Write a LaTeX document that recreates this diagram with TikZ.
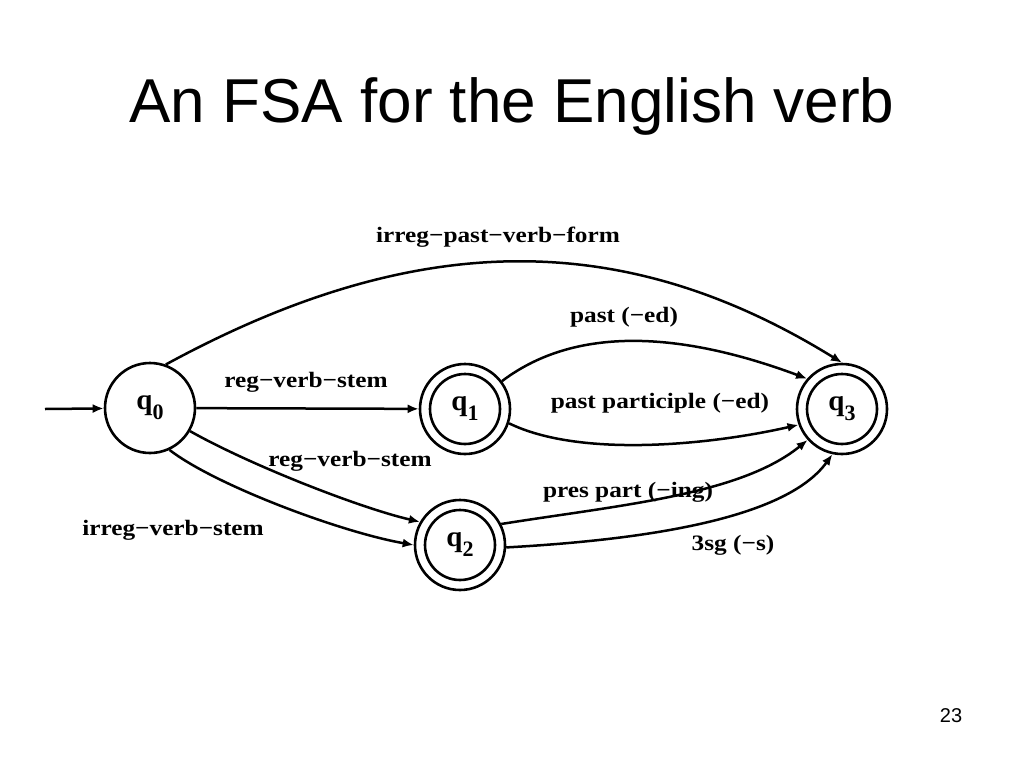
\documentclass[tikz,border=0pt]{standalone}
\usepackage{fontspec}
\usepackage{graphicx}
\setmainfont{Liberation Serif}
\newfontfamily\titlefont{Liberation Sans}
\usetikzlibrary{arrows.meta}
\newcommand\edgelab[1]{\scalebox{1.15}[1]{\fontsize{22}{24}\selectfont\bfseries #1}}
\newcommand\qlab[1]{{\fontsize{29}{29}\selectfont\bfseries q\raisebox{-10pt}{\fontsize{22}{22}\selectfont #1}}}
\begin{document}
\begin{tikzpicture}[x=1pt,y=-1pt,
  state/.style={circle,draw,line width=2.6pt,minimum size=90pt,inner sep=0pt},
  edge/.style={line width=2.5pt,-{Latex[length=11pt,width=9pt]}},
  lab/.style={inner sep=0pt}]
\useasboundingbox[fill=white] (0,0) rectangle (1024,768);
\node[font=\titlefont\fontsize{62}{62}\selectfont, anchor=base] (title) at (512,122) {An FSA for the English verb};
\node[font=\titlefont\fontsize{20}{20}\selectfont, anchor=base] (page) at (951,722) {23};
\node[state] (q0) at (150,408) {\qlab{0}};
\node[state] (q1) at (465,409) {\qlab{1}};
\node[state] (q2) at (460,545) {\qlab{2}};
\node[state] (q3) at (842,409) {\qlab{3}};
\draw[line width=2.6pt] (q1.center) circle[radius=35pt];
\draw[line width=2.6pt] (q2.center) circle[radius=35pt];
\draw[line width=2.6pt] (q3.center) circle[radius=35pt];
\coordinate (start) at (45,409);
\draw[edge] (start) -- (q0);
\draw[edge] (q0.70) .. controls (422,225) and (629,231) .. (q3.90);
\draw[edge] (q0) -- (q1);
\draw[edge] (q1.37) .. controls (580,322) and (690,335) .. (q3.139);
\draw[edge] (q1.-18) .. controls (580,458) and (710,445) .. (q3.200);
\draw[edge] (q0.-30) .. controls (250,465) and (360,508) .. (q2.150);
\draw[edge] (q0.-65) .. controls (215,485) and (340,532) .. (q2.180);
\draw[edge] (q2.27) .. controls (620,505) and (740,495) .. (q3.222);
\draw[edge] (q2.-3) .. controls (640,540) and (785,520) .. (q3.258);
\node[lab] (l1) at (498,237) {\edgelab{irreg−past−verb−form}};
\node[lab] (l2) at (624,317) {\edgelab{past (−ed)}};
\node[lab] (l3) at (306,382) {\edgelab{reg−verb−stem}};
\node[lab] (l4) at (350,461) {\edgelab{reg−verb−stem}};
\node[lab] (l5) at (173,530) {\edgelab{irreg−verb−stem}};
\node[lab] (l6) at (660,403) {\edgelab{past participle (−ed)}};
\node[lab] (l7) at (628,492) {\edgelab{pres part (−ing)}};
\node[lab] (l8) at (733,545) {\edgelab{3sg (−s)}};
\end{tikzpicture}
\end{document}
